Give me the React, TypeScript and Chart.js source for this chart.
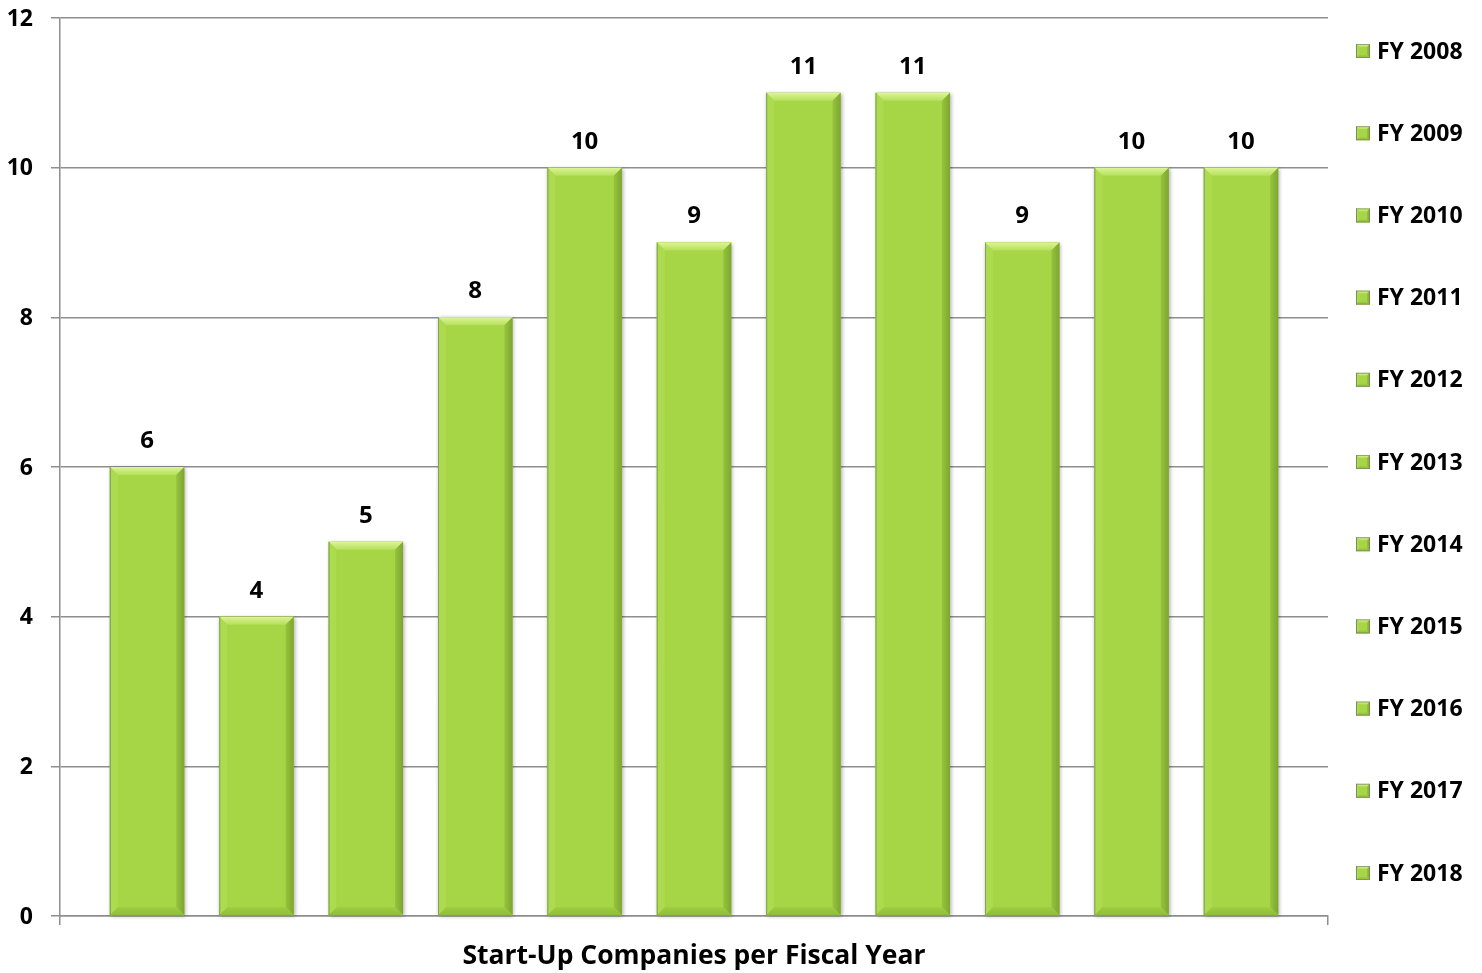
import React, { useEffect, useRef } from "react";
import { Chart, registerables } from "chart.js";

Chart.register(...registerables);

const seriesNames = [
  "FY 2008", "FY 2009", "FY 2010", "FY 2011", "FY 2012", "FY 2013",
  "FY 2014", "FY 2015", "FY 2016", "FY 2017", "FY 2018",
];
const seriesValues = [6, 4, 5, 8, 10, 9, 11, 11, 9, 10, 10];
const categories = [""];
const yTicks = [0, 2, 4, 6, 8, 10, 12];
const axisTitle = "Start-Up Companies per Fiscal Year";

const FONT = "'Open Sans', 'DejaVu Sans', sans-serif";
const GREEN = "#a6d646";
const GRID = "#8e8e8e";

Chart.defaults.font.family = FONT;
Chart.defaults.color = "#000";

function drawBevelRect(ctx: CanvasRenderingContext2D, L: number, T: number, R: number, B: number, b: number, shadow: boolean) {
  ctx.save();
  if (shadow) {
    ctx.shadowColor = "rgba(0,0,0,0.35)";
    ctx.shadowBlur = 4;
    ctx.shadowOffsetX = 1;
    ctx.shadowOffsetY = 1;
  }
  ctx.fillStyle = GREEN;
  ctx.fillRect(L, T, R - L, B - T);
  ctx.restore();

  ctx.save();
  const gTop = ctx.createLinearGradient(0, T, 0, T + b);
  gTop.addColorStop(0, "#dcf596");
  gTop.addColorStop(1, "#b5df5a");
  ctx.fillStyle = gTop;
  ctx.beginPath();
  ctx.moveTo(L, T); ctx.lineTo(R, T); ctx.lineTo(R - b, T + b); ctx.lineTo(L + b, T + b); ctx.closePath();
  ctx.fill();
  ctx.fillStyle = "#acdb4f";
  ctx.beginPath();
  ctx.moveTo(L, T); ctx.lineTo(L + b, T + b); ctx.lineTo(L + b, B - b); ctx.lineTo(L, B); ctx.closePath();
  ctx.fill();
  const gR = ctx.createLinearGradient(R - b, 0, R, 0);
  gR.addColorStop(0, "#96c33e");
  gR.addColorStop(1, "#7ea631");
  ctx.fillStyle = gR;
  ctx.beginPath();
  ctx.moveTo(R, T); ctx.lineTo(R, B); ctx.lineTo(R - b, B - b); ctx.lineTo(R - b, T + b); ctx.closePath();
  ctx.fill();
  const gB = ctx.createLinearGradient(0, B - b, 0, B);
  gB.addColorStop(0, "#9dcd40");
  gB.addColorStop(1, "#8fbd39");
  ctx.fillStyle = gB;
  ctx.beginPath();
  ctx.moveTo(L, B); ctx.lineTo(R, B); ctx.lineTo(R - b, B - b); ctx.lineTo(L + b, B - b); ctx.closePath();
  ctx.fill();
  ctx.strokeStyle = "rgba(110,120,100,0.6)";
  ctx.lineWidth = 1;
  ctx.beginPath();
  ctx.moveTo(L + 0.5, T); ctx.lineTo(L + 0.5, B);
  ctx.stroke();
  ctx.restore();
}

const bevelBars = {
  id: "bevelBars",
  afterDatasetsDraw(chart: any) {
    const ctx = chart.ctx as CanvasRenderingContext2D;
    chart.data.datasets.forEach((ds: any, i: number) => {
      const meta = chart.getDatasetMeta(i);
      meta.data.forEach((el: any) => {
        const p = el.getProps(["x", "y", "base", "width"], true);
        const L = p.x - p.width / 2;
        const R = p.x + p.width / 2;
        const T = Math.min(p.y, p.base);
        const B = Math.max(p.y, p.base);
        drawBevelRect(ctx, L, T, R, B, 8, true);
      });
    });
    ctx.save();
    ctx.fillStyle = "#000";
    ctx.font = `700 24px ${FONT}`;
    ctx.textAlign = "center";
    ctx.textBaseline = "middle";
    chart.data.datasets.forEach((ds: any, i: number) => {
      const meta = chart.getDatasetMeta(i);
      meta.data.forEach((el: any, j: number) => {
        const p = el.getProps(["x", "y"], true);
        ctx.fillText(String(ds.data[j]), p.x, p.y - 26);
      });
    });
    ctx.restore();
  },
};

// bold y tick labels placed with the y scale
const yLabels = {
  id: "yLabels",
  afterDraw(chart: any) {
    const ctx = chart.ctx as CanvasRenderingContext2D;
    const scale = chart.scales.y;
    ctx.save();
    ctx.fillStyle = "#000";
    ctx.font = `700 23px ${FONT}`;
    ctx.textAlign = "right";
    ctx.textBaseline = "middle";
    scale.ticks.forEach((t: any) => {
      const y = scale.getPixelForValue(t.value);
      ctx.fillText(String(t.value), scale.right - 27, y + 1);
    });
    ctx.restore();
  },
};

const sideLegend = {
  id: "sideLegend",
  afterDraw(chart: any) {
    const ctx = chart.ctx as CanvasRenderingContext2D;
    const area = chart.chartArea;
    const n = chart.data.datasets.length;
    const y0 = area.top + 33;
    const y1 = area.bottom - 43;
    const step = n > 1 ? (y1 - y0) / (n - 1) : 0;
    const boxX = area.right + 28;
    ctx.save();
    chart.data.datasets.forEach((ds: any, i: number) => {
      const cy = y0 + step * i;
      drawBevelRect(ctx, boxX, cy - 7, boxX + 14, cy + 7, 3, false);
      ctx.strokeStyle = "rgba(120,130,110,0.7)";
      ctx.lineWidth = 1;
      ctx.strokeRect(boxX + 0.5, cy - 6.5, 13, 13);
      ctx.fillStyle = "#000";
      ctx.font = `700 23px ${FONT}`;
      ctx.textAlign = "left";
      ctx.textBaseline = "middle";
      ctx.fillText(ds.label, boxX + 21, cy + 1);
    });
    ctx.restore();
  },
};

export default function App() {
  const ref = useRef<HTMLCanvasElement | null>(null);
  useEffect(() => {
    if (!ref.current) return;
    const chart = new Chart(ref.current, {
      type: "bar",
      data: {
        labels: categories,
        datasets: seriesNames.map((name, i) => ({
          label: name,
          data: [seriesValues[i]],
          backgroundColor: GREEN,
          borderWidth: 0,
          categoryPercentage: 0.949,
          barPercentage: 0.68,
        })),
      },
      options: {
        animation: false,
        responsive: true,
        maintainAspectRatio: false,
        layout: { padding: { top: 18, right: 154, bottom: 0, left: 0 } },
        plugins: {
          legend: { display: false },
          tooltip: { enabled: false },
          title: { display: false },
        },
        scales: {
          x: {
            type: "category",
            offset: true,
            ticks: { display: false },
            grid: {
              display: true,
              offset: true,
              drawOnChartArea: false,
              drawTicks: true,
              tickLength: 9,
              color: GRID,
              lineWidth: 1.5,
            },
            border: { display: true, color: GRID, width: 1.5 },
            title: {
              display: true,
              text: axisTitle,
              color: "#000",
              font: { family: FONT, size: 26.5, weight: "bold" },
              padding: { top: 0, bottom: 1 },
            },
            afterFit(scale: any) {
              scale.height = 57;
              scale.paddingLeft = 0;
              scale.paddingRight = 0;
            },
          },
          y: {
            min: 0,
            max: 12,
            afterBuildTicks(scale: any) {
              scale.ticks = yTicks.map((v) => ({ value: v }));
            },
            ticks: { display: false },
            grid: {
              color: GRID,
              lineWidth: 1.5,
              drawTicks: true,
              tickLength: 9,
            },
            border: { display: true, color: GRID, width: 1.5 },
            afterFit(scale: any) {
              scale.width = 60;
              scale.paddingTop = 0;
              scale.paddingBottom = 0;
            },
          },
        },
      },
      plugins: [bevelBars, yLabels, sideLegend],
    });
    return () => chart.destroy();
  }, []);
  return (
    <div style={{ position: "absolute", left: 0, top: 0, width: 1482, height: 973, background: "#fff" }}>
      <canvas ref={ref} />
    </div>
  );
}
